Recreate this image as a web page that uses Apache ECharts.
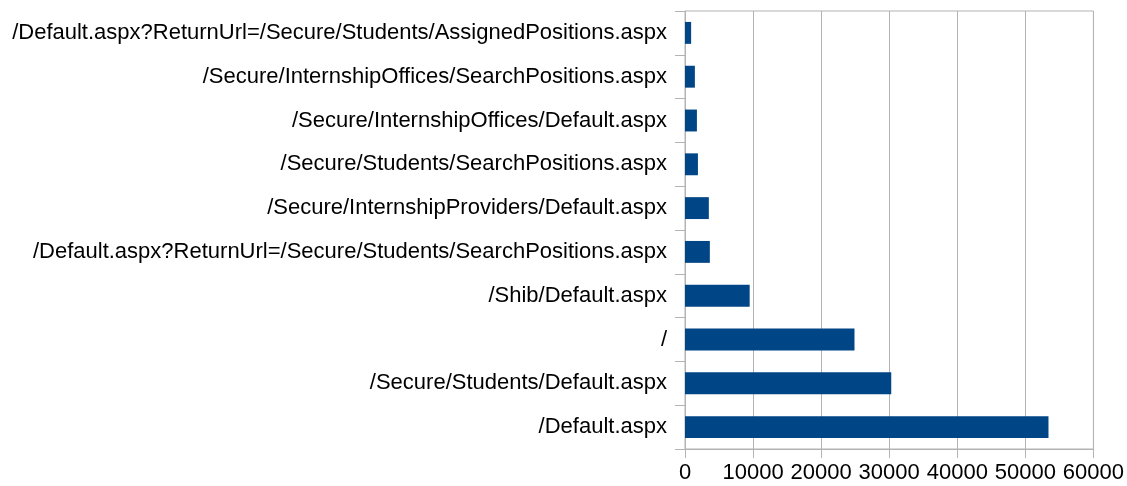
<!DOCTYPE html>
<html>
<head>
<meta charset="utf-8">
<script src="https://cdn.jsdelivr.net/npm/echarts@6/dist/echarts.min.js"></script>
<style>
  html, body { margin: 0; padding: 0; background: #ffffff; }
  #chart { width: 1127px; height: 486px; }
</style>
</head>
<body>
<div id="chart"></div>
<script>
// Page paths, listed top to bottom
const pages = [
  '/Default.aspx?ReturnUrl=/Secure/Students/AssignedPositions.aspx',
  '/Secure/InternshipOffices/SearchPositions.aspx',
  '/Secure/InternshipOffices/Default.aspx',
  '/Secure/Students/SearchPositions.aspx',
  '/Secure/InternshipProviders/Default.aspx',
  '/Default.aspx?ReturnUrl=/Secure/Students/SearchPositions.aspx',
  '/Shib/Default.aspx',
  '/',
  '/Secure/Students/Default.aspx',
  '/Default.aspx'
];

// Hits per page
const hits = [900, 1450, 1750, 1900, 3500, 3650, 9500, 24900, 30300, 53400];

// Value axis ticks
const xMin = 0;
const xMax = 60000;
const xStep = 10000;

const chart = echarts.init(document.getElementById('chart'));
const axisGray = '#b3b3b3';
const font = '"Liberation Sans", Arial, sans-serif';

chart.setOption({
  animation: false,
  grid: {
    left: 685, right: 30, top: 11, bottom: 37,
    show: true, borderColor: axisGray, borderWidth: 1
  },
  xAxis: {
    type: 'value',
    min: xMin, max: xMax, interval: xStep,
    axisLine: { show: true, lineStyle: { color: axisGray } },
    axisTick: { show: true, length: 9, lineStyle: { color: axisGray } },
    splitLine: { show: true, lineStyle: { color: axisGray } },
    axisLabel: {
      color: '#000000', fontFamily: font, fontSize: 22, margin: 13,
      formatter: v => String(v)
    }
  },
  yAxis: {
    type: 'category',
    inverse: true,
    data: pages,
    axisLine: { show: true, lineStyle: { color: axisGray } },
    axisTick: { show: true, length: 10, alignWithLabel: false, lineStyle: { color: axisGray } },
    splitLine: { show: false },
    axisLabel: { color: '#000000', fontFamily: font, fontSize: 22, margin: 18 }
  },
  series: [{
    type: 'bar',
    data: hits,
    barWidth: '50%',
    itemStyle: { color: '#004586' }
  }]
});
</script>
</body>
</html>
